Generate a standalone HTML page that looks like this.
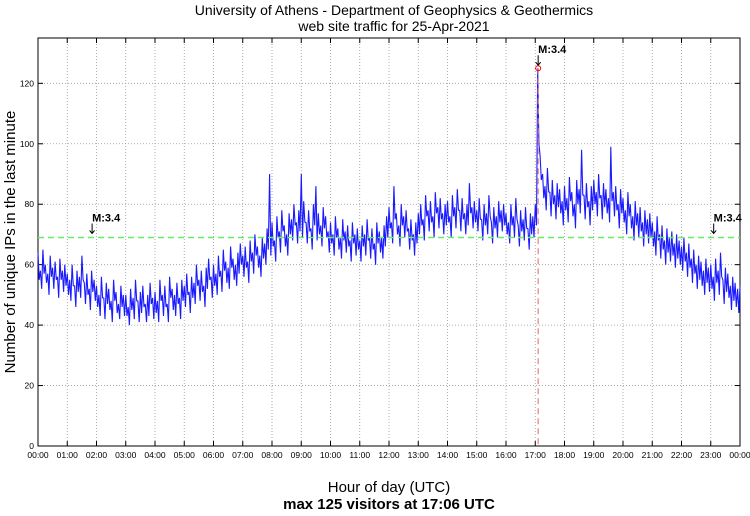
<!DOCTYPE html>
<html><head><meta charset="utf-8"><style>
body{margin:0;background:#fff;font-family:"Liberation Sans",sans-serif}
svg text{font-family:"Liberation Sans",sans-serif}
</style></head><body>
<svg id="c" width="750" height="511" xmlns="http://www.w3.org/2000/svg">
<text x="394" y="15" font-size="14" text-anchor="middle">University of Athens - Department of Geophysics &amp; Geothermics</text>
<text x="394" y="31" font-size="14" text-anchor="middle">web site traffic for 25-Apr-2021</text>
<text transform="translate(15,242) rotate(-90)" font-size="15" text-anchor="middle">Number of unique IPs in the last minute</text>
<text x="389" y="492" font-size="15" text-anchor="middle">Hour of day (UTC)</text>
<text x="389" y="509" font-size="15" font-weight="bold" text-anchor="middle">max 125 visitors at 17:06 UTC</text>
<g id="grid"></g><g id="series"></g><g id="over"></g>
</svg>
<script>
const values=[
64,58,65,60,57,63,59,61,56,62,58,60,
57,55,60,53,58,56,63,54,57,52,58,55,
53,50,56,49,54,52,48,55,51,47,53,50,
50,46,52,49,55,48,51,53,47,50,54,49,
51,48,55,50,53,47,56,52,50,54,49,55,
53,57,51,56,54,60,55,58,53,59,62,56,
60,57,63,58,65,61,59,66,62,60,64,67,
63,66,61,68,64,70,66,63,69,67,72,90,
74,68,76,71,78,73,70,77,75,80,74,78,
90,81,74,78,72,80,86,77,73,79,76,71,
74,70,76,72,69,75,71,73,68,74,70,72,
68,73,70,75,69,72,67,74,71,69,73,76,
79,74,86,77,73,80,76,78,72,75,70,74,
77,80,75,83,78,81,76,84,79,82,77,80,
81,76,83,79,85,78,82,77,80,87,79,81,
78,82,75,80,77,83,74,79,76,81,78,80,
77,74,80,76,82,73,78,75,79,72,77,76,
80,125,96,90,86,92,84,88,83,87,85,81,
86,82,89,84,80,88,85,98,83,87,81,86,
88,84,90,83,87,85,82,99,84,86,80,85,
82,78,84,80,76,81,77,79,74,78,75,77,
74,71,76,70,73,68,72,69,71,67,70,68,
66,69,64,67,62,65,60,63,61,58,62,59,
60,56,62,58,64,55,59,57,53,56,54,52,53];
const lows=[
55,52,57,54,50,56,52,55,49,55,51,53,
50,48,53,46,51,49,55,47,50,45,51,48,
46,43,49,42,47,45,41,48,44,42,46,43,
43,40,45,42,48,41,44,46,41,43,47,42,
44,41,48,43,46,41,49,45,43,47,42,48,
46,50,44,49,47,53,48,51,46,52,55,49,
53,50,56,51,58,54,52,59,55,53,57,60,
56,59,54,61,57,63,59,56,62,60,65,63,
66,61,69,64,71,66,63,70,68,73,67,71,
69,74,67,71,65,73,68,70,66,72,69,64,
67,63,69,65,62,68,64,66,61,67,63,65,
61,66,63,68,62,65,60,67,64,62,66,69,
72,67,75,70,66,73,69,71,65,68,63,67,
70,73,68,76,71,74,69,77,72,75,70,73,
74,69,76,72,78,71,75,70,73,77,72,74,
71,75,68,73,70,76,67,72,69,74,71,73,
70,67,73,69,75,66,71,68,72,65,70,69,
73,100,88,82,78,84,76,80,75,79,77,73,
78,74,81,76,72,80,77,83,75,79,73,78,
80,76,82,75,79,77,74,81,76,78,72,77,
74,70,76,72,68,73,69,71,66,70,67,69,
66,63,68,62,65,60,64,61,63,59,62,60,
58,61,56,59,54,57,52,55,53,50,54,51,
52,48,54,50,56,47,51,49,45,48,46,44,46];
const stepMin=5;
const hourLabels=["00:00","01:00","02:00","03:00","04:00","05:00","06:00","07:00","08:00","09:00","10:00","11:00","12:00","13:00","14:00","15:00","16:00","17:00","18:00","19:00","20:00","21:00","22:00","23:00","00:00"];
const yTicks=[0,20,40,60,80,100,120];
const meanLevel=69;
const peakHour=17.1, peakValue=125;
const markerHours=[1.85,17.1,23.1];
const markerLabels=["M:3.4","M:3.4","M:3.4"];
const L=38,R=740,T=38,B=446,YMAX=135;
const sx=h=>L+(R-L)*h/24, sy=v=>B-(B-T)*v/YMAX;
const NS="http://www.w3.org/2000/svg";
function mk(tag,parent,a){const e=document.createElementNS(NS,tag);for(const k in a)e.setAttribute(k,a[k]);parent.appendChild(e);return e;}
const g=document.getElementById('grid'),s=document.getElementById('series'),o=document.getElementById('over');
hourLabels.forEach((lab,i)=>{const x=sx(i);
 if(i>0&&i<24){const l=mk('line',g,{x1:x,x2:x,y1:T,y2:B,stroke:'#999','stroke-dasharray':'1,2','stroke-width':0.8});
 }
 mk('line',g,{x1:x,x2:x,y1:B,y2:B-5,stroke:'#000'});mk('line',g,{x1:x,x2:x,y1:T,y2:T+5,stroke:'#000'});
 const t=mk('text',g,{x:x,y:458,'font-size':8.5,'text-anchor':'middle'});t.textContent=lab;
 });
yTicks.forEach(v=>{const y=sy(v);
 if(v>0){const l=mk('line',g,{x1:L,x2:R,y1:y,y2:y,stroke:'#999','stroke-dasharray':'1,2','stroke-width':0.8});
 }
 mk('line',g,{x1:L,x2:L+5,y1:y,y2:y,stroke:'#000'});mk('line',g,{x1:R,x2:R-5,y1:y,y2:y,stroke:'#000'});
 const t=mk('text',g,{x:L-4,y:y+3,'font-size':8.5,'text-anchor':'end'});t.textContent=v;
 });
const frame=mk('rect',g,{x:L,y:T,width:R-L,height:B-T,fill:'none',stroke:'#000'});

const pp=[];
values.forEach((v,i)=>{const h=i*stepMin/60;pp.push(sx(h).toFixed(1)+','+sy(v).toFixed(1));
 if(i<lows.length&&i<values.length-1)pp.push(sx(h+stepMin/120).toFixed(1)+','+sy(lows[i]).toFixed(1));});
const line=mk('polyline',s,{points:pp.join(' '),fill:'none',stroke:'#1a1aff','stroke-width':1.1,'stroke-linejoin':'bevel'});

const ml=mk('line',o,{x1:L,x2:R,y1:sy(meanLevel),y2:sy(meanLevel),stroke:'#66ee66','stroke-width':1.5,'stroke-dasharray':'6,4'});

const pl=mk('line',o,{x1:sx(peakHour),x2:sx(peakHour),y1:sy(peakValue),y2:B,stroke:'#f08080','stroke-width':1.2,'stroke-dasharray':'6,4'});

const pc=mk('circle',o,{cx:sx(peakHour),cy:sy(peakValue),r:2.5,fill:'none',stroke:'#e00'});

markerHours.forEach((h,i)=>{const x=sx(h);const yb=i==1?sy(peakValue)-3:sy(meanLevel)-4;
 const t=mk('text',o,{x:x,y:yb-12,'font-size':11,'font-weight':'bold'});t.textContent=markerLabels[i];
 
 const a=mk('path',o,{d:`M${x},${yb-10}V${yb}M${x-2.5},${yb-3}L${x},${yb}L${x+2.5},${yb-3}`,stroke:'#000','stroke-width':1,fill:'none'});
 });
</script>
</body></html>
